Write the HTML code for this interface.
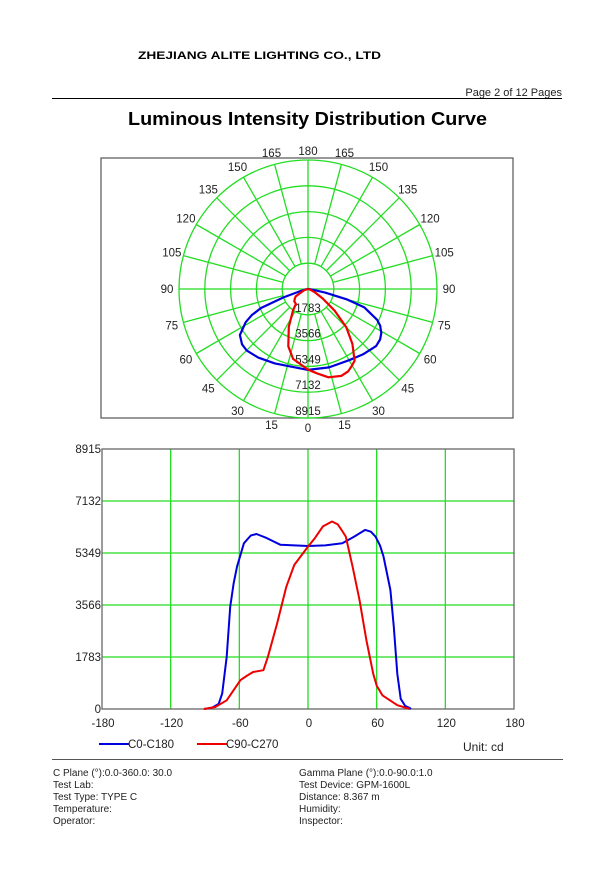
<!DOCTYPE html>
<html><head><meta charset="utf-8"><style>
body{margin:0;background:#fff;width:616px;height:865px;overflow:hidden;font-family:"Liberation Sans",sans-serif}
</style></head><body>
<svg id="s" width="616" height="865" xmlns="http://www.w3.org/2000/svg" font-family="Liberation Sans, sans-serif">
<text x="138" y="59" font-size="11" font-weight="bold" textLength="243" lengthAdjust="spacingAndGlyphs">ZHEJIANG ALITE LIGHTING CO., LTD</text>
<text x="562" y="96" font-size="11" text-anchor="end" fill="#222">Page 2 of 12 Pages</text>
<line x1="52" y1="98.5" x2="562" y2="98.5" stroke="#000" stroke-width="1"/>
<text x="128" y="125" font-size="18" font-weight="bold" textLength="359" lengthAdjust="spacingAndGlyphs">Luminous Intensity Distribution Curve</text>
<rect x="101" y="158" width="412" height="260" fill="none" stroke="#555" stroke-width="1.2"/>
<g id="polar"></g>
<g id="cart"></g>
<line x1="52" y1="759.5" x2="563" y2="759.5" stroke="#555" stroke-width="1"/>
<g font-size="10" fill="#222">
<text x="53" y="776">C Plane (°):0.0-360.0: 30.0</text>
<text x="53" y="788">Test Lab:</text>
<text x="53" y="800">Test Type: TYPE C</text>
<text x="53" y="812">Temperature:</text>
<text x="53" y="824">Operator:</text>
<text x="299" y="776">Gamma Plane (°):0.0-90.0:1.0</text>
<text x="299" y="788">Test Device: GPM-1600L</text>
<text x="299" y="800">Distance: 8.367 m</text>
<text x="299" y="812">Humidity:</text>
<text x="299" y="824">Inspector:</text>
</g>
</svg>
<script>
var NS="http://www.w3.org/2000/svg";
function el(p,t,a,txt){var e=document.createElementNS(NS,t);for(var k in a)e.setAttribute(k,a[k]);if(txt!==undefined)e.textContent=txt;p.appendChild(e);return e;}
var blue=[[-91,0],[-84,40],[-78,180],[-75,530],[-71,1790],[-68,3500],[-65,4300],[-62,4880],[-56,5680],[-50,5950],[-45,6000],[-36,5860],[-24,5630],[0,5590],[15,5610],[30,5680],[40,5900],[50,6140],[55,6080],[59,5910],[63,5600],[66,5230],[72,4080],[75,2820],[78,1210],[81,350],[85,100],[89,30],[90,0]];
var red=[[-91,0],[-81,70],[-71,300],[-59,990],[-53,1150],[-48,1270],[-39,1330],[-35,1790],[-27,2930],[-19,4190],[-12,4940],[0,5570],[6,5860],[13,6260],[21,6430],[26,6330],[30,6100],[33,5910],[39,4880],[45,3740],[51,2360],[57,1210],[60,800],[65,470],[78,130],[89,0]];
var P=document.getElementById("polar"),cx=308,cy=289,R=129,G="#22dd22";
for(var i=1;i<=5;i++)el(P,"circle",{cx:cx,cy:cy,r:R*i/5,fill:"none",stroke:G,"stroke-width":1.3});
for(var a=0;a<360;a+=15){var rad=a*Math.PI/180,r0=(a%90==0)?0:R/5;
el(P,"line",{x1:cx+r0*Math.sin(rad),y1:cy+r0*Math.cos(rad),x2:cx+R*Math.sin(rad),y2:cy+R*Math.cos(rad),stroke:G,"stroke-width":1.3});}
for(var a=0;a<=180;a+=15){[1,-1].forEach(function(sg){if((a==0||a==180)&&sg<0)return;var rad=a*Math.PI/180,rr=141;
var x=cx+sg*rr*Math.sin(rad),y=cy+rr*Math.cos(rad)+4;if(a==0)y=cy+143;if(a==180)y=cy-134;
el(P,"text",{x:x,y:y,"font-size":11.5,"text-anchor":"middle",fill:"#222"},""+a);});}
["1783","3566","5349","7132","8915"].forEach(function(t,i){el(P,"text",{x:cx,y:cy+R*(i+1)/5-3,"font-size":11.5,"text-anchor":"middle",fill:"#222"},t);});
function ppath(d){var s="";d.forEach(function(p,i){var r=p[1]*R/8915,rad=p[0]*Math.PI/180;s+=(i?"L":"M")+(cx+r*Math.sin(rad)).toFixed(1)+","+(cy+r*Math.cos(rad)).toFixed(1);});return s;}
el(P,"path",{d:ppath(blue),fill:"none",stroke:"#0000dd","stroke-width":2.2,"stroke-linejoin":"round"});
el(P,"path",{d:ppath(red),fill:"none",stroke:"#ee0000","stroke-width":2.2,"stroke-linejoin":"round"});
var C=document.getElementById("cart"),L=102,Rt=514,T=449,B=709;
function X(a){return L+(a+180)*(Rt-L)/360}function Y(v){return B-v*(B-T)/8915}
[-120,-60,0,60,120].forEach(function(a){el(C,"line",{x1:X(a),y1:T,x2:X(a),y2:B,stroke:G,"stroke-width":1.3});});
[1783,3566,5349,7132].forEach(function(v){el(C,"line",{x1:L,y1:Y(v),x2:Rt,y2:Y(v),stroke:G,"stroke-width":1.3});});
el(C,"rect",{x:L,y:T,width:Rt-L,height:B-T,fill:"none",stroke:"#666","stroke-width":1.3});
[0,1783,3566,5349,7132,8915].forEach(function(v){el(C,"text",{x:101,y:Y(v)+4,"font-size":11.5,"text-anchor":"end",fill:"#222"},""+v);});
[-180,-120,-60,0,60,120,180].forEach(function(a){el(C,"text",{x:X(a)+1,y:727,"font-size":11.5,"text-anchor":"middle",fill:"#222"},""+a);});
function cpath(d){var s="";d.forEach(function(p,i){s+=(i?"L":"M")+X(p[0]).toFixed(1)+","+Y(p[1]).toFixed(1);});return s;}
el(C,"path",{d:cpath(blue),fill:"none",stroke:"#0000dd","stroke-width":2,"stroke-linejoin":"round"});
el(C,"path",{d:cpath(red),fill:"none",stroke:"#ee0000","stroke-width":2,"stroke-linejoin":"round"});
el(C,"line",{x1:99,y1:744,x2:129,y2:744,stroke:"#0000dd","stroke-width":2});
el(C,"text",{x:128,y:748,"font-size":11.5,fill:"#222"},"C0-C180");
el(C,"line",{x1:197,y1:744,x2:227,y2:744,stroke:"#ee0000","stroke-width":2});
el(C,"text",{x:226,y:748,"font-size":11.5,fill:"#222"},"C90-C270");
el(C,"text",{x:463,y:751,"font-size":12,fill:"#222"},"Unit: cd");
</script>
</body></html>
